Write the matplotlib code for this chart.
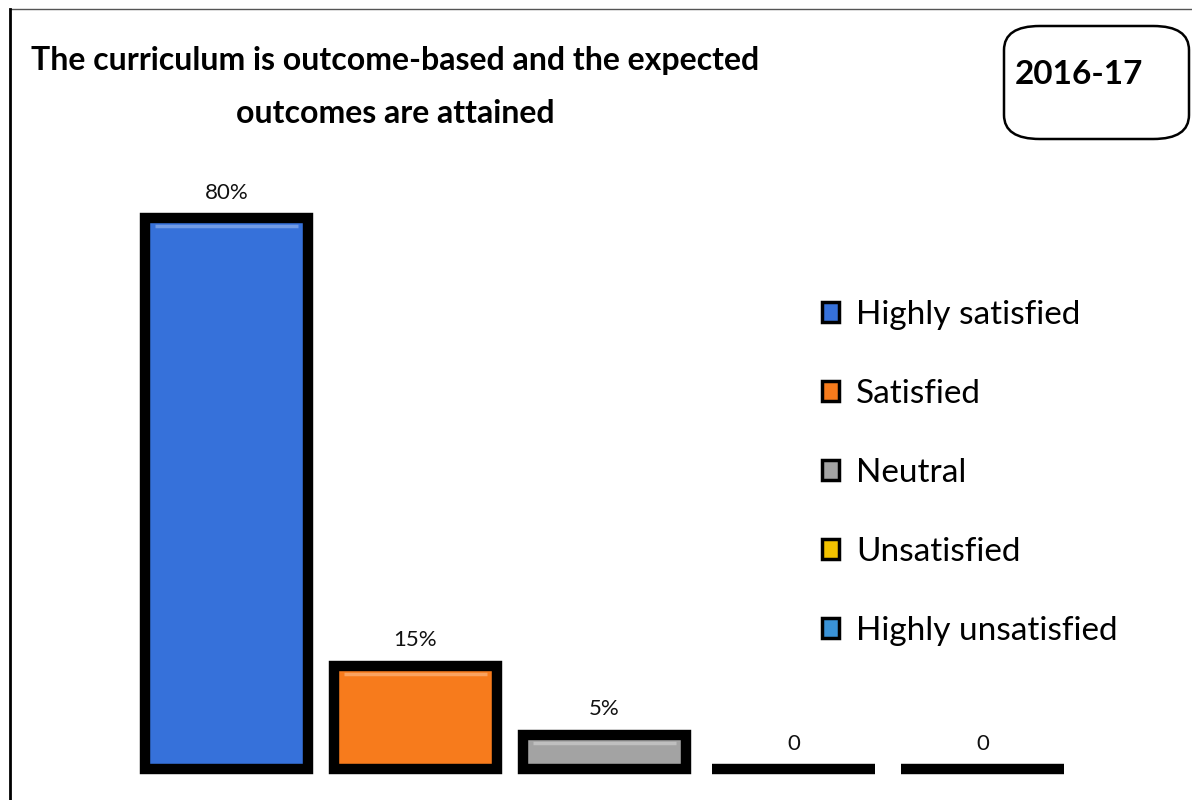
import matplotlib.pyplot as plt
import matplotlib.transforms as mtransforms
from matplotlib.colors import to_rgb
from matplotlib.patches import Patch, FancyBboxPatch
from matplotlib.lines import Line2D

# Survey responses (percent of respondents)
categories = ['Highly satisfied', 'Satisfied', 'Neutral', 'Unsatisfied', 'Highly unsatisfied']
values = [80, 15, 5, 0, 0]
value_labels = ['80%', '15%', '5%', '0', '0']
colors = ['#3671DA', '#F77B1C', '#A3A3A3', '#F2C200', '#3A93D8']

title = 'The curriculum is outcome-based and the expected\noutcomes are attained'
year_tag = '2016-17'

plt.rcParams['font.family'] = ['Lato', 'DejaVu Sans']

fig = plt.figure(figsize=(11.92, 8), dpi=100)
ax = fig.add_axes([132 / 1192, 31 / 800, 945 / 1192, 589 / 800])

x = range(len(values))
bars = ax.bar(x, values, width=0.86, color=colors, edgecolor='black', linewidth=7.5, clip_on=False)


def lighten(c, amt):
    r, g, b = to_rgb(c)
    return (r + (1 - r) * amt, g + (1 - g) * amt, b + (1 - b) * amt)


# light bevel strip just inside the top edge of each bar
below_top = mtransforms.offset_copy(ax.transData, fig=fig, x=0, y=-6, units='points')
for bar, c in zip(bars, colors):
    if bar.get_height() <= 0:
        continue
    x0 = bar.get_x() + bar.get_width() * 0.06
    x1 = bar.get_x() + bar.get_width() * 0.94
    ax.plot([x0, x1], [bar.get_height()] * 2, transform=below_top,
            color=lighten(c, 0.3), linewidth=2.5, solid_capstyle='butt')

for bar, lab in zip(bars, value_labels):
    ax.annotate(lab, (bar.get_x() + bar.get_width() / 2, bar.get_height()),
                xytext=(0, 11), textcoords='offset points',
                ha='center', va='bottom', fontsize=16, color='#111111')

ax.set_xlim(-0.5, len(values) - 0.5)
ax.set_ylim(0, 85.5)
ax.axis('off')

# Legend on the right side, over the empty part of the plot
handles = [Patch(facecolor=c, edgecolor='black', linewidth=2.5) for c in colors]
fig.legend(handles, categories, loc='upper left', bbox_to_anchor=(822 / 1192, 1 - 300 / 800),
           frameon=False, fontsize=24, labelspacing=1.47, handlelength=0.52, handleheight=0.52,
           handletextpad=0.5, borderpad=0, borderaxespad=0)

# Title
fig.text(395 / 1192, 1 - 87 / 800, title, ha='center', va='center', fontsize=23,
         fontweight='bold', linespacing=2.0)

# Year tag in a rounded box
box = FancyBboxPatch((1004 / 1192, 1 - 139 / 800), 185 / 1192, 113 / 800,
                     boxstyle='round,pad=0,rounding_size=0.03', transform=fig.transFigure,
                     facecolor='white', edgecolor='black', linewidth=1.8)
fig.patches.append(box)
fig.text(1079 / 1192, 1 - 74 / 800, year_tag, ha='center', va='center', fontsize=24,
         fontweight='bold')

# Frame edges along the top and left
fig.add_artist(Line2D([10 / 1192, 1], [1 - 9 / 800] * 2, transform=fig.transFigure, color='#555555', linewidth=1))
fig.add_artist(Line2D([10 / 1192] * 2, [0, 1 - 9 / 800], transform=fig.transFigure, color='black', linewidth=2))

fig.savefig('out.png', dpi=100)
